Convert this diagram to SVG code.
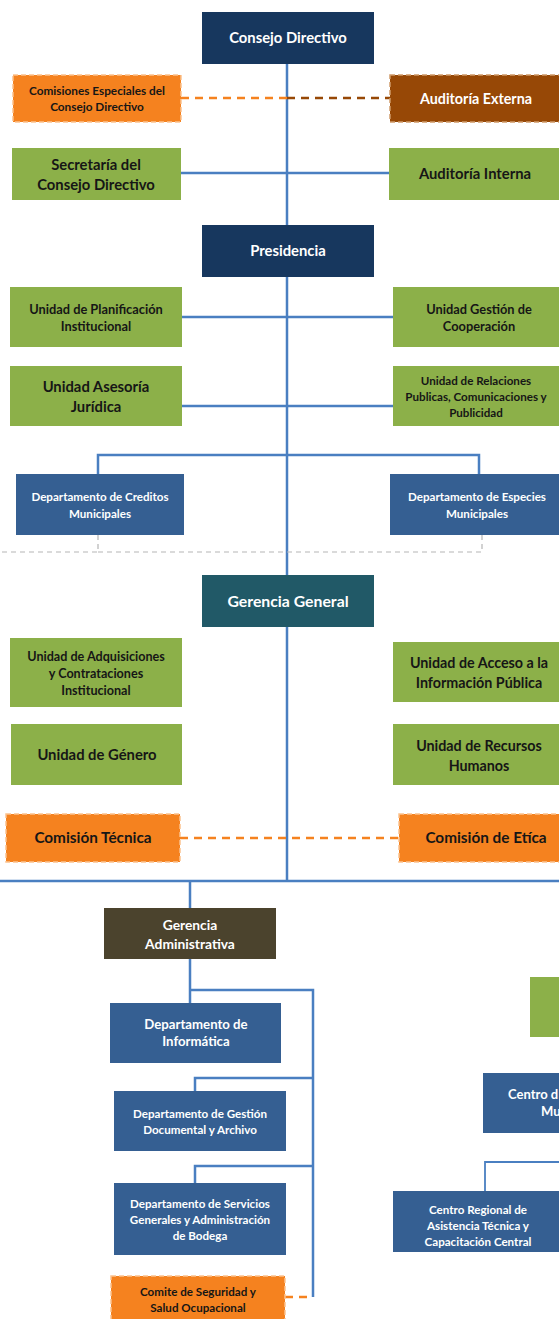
<svg xmlns="http://www.w3.org/2000/svg" width="559" height="1319" viewBox="0 0 559 1319">
<style>
text{font-family:Lato,"Liberation Sans",sans-serif;font-weight:bold;text-anchor:middle}
.w{fill:#ffffff}
.k{fill:#161616}
.navy{fill:#17375E}
.green{fill:#8CB049}
.blue{fill:#355F92}
.teal{fill:#215967}
.olive{fill:#4B432D}
.orange{fill:#F5821F;stroke:#FBC28E;stroke-width:1.5;stroke-dasharray:5 3}
.brown{fill:#974806;stroke:#CF9A6A;stroke-width:1.5;stroke-dasharray:5 3}
.ln{fill:none;stroke:#4A7FC1;stroke-width:2.5}
.dor{fill:none;stroke:#F5821F;stroke-width:2.5;stroke-dasharray:8 6}
.dbr{fill:none;stroke:#974806;stroke-width:2.5;stroke-dasharray:8 6}
.dgr{fill:none;stroke:#B5B5B5;stroke-width:1.2;stroke-dasharray:5 4}
</style>
<rect width="559" height="1319" fill="#ffffff"/>
<g id="connectors">
<path class="ln" d="M287 64V880M181 173H389M182 317H393M182 406H393M98 474V455H479V474"/>
<path class="ln" d="M0 881H559M190 881V908M190 959V1003M190 990H313V1297M195 1091V1078H313M195 1183V1166H313"/>
<path class="ln" d="M485 1191V1162H559" style="stroke-width:1.8"/>
<path class="dor" d="M181 98H287M180 838H399M285 1297H313"/>
<path class="dbr" d="M287 98H390"/>
<path class="dgr" d="M98 535V552H0M98 552H482V535"/>
</g>
<g id="consejo-directivo"><rect class="navy" x="202" y="12" width="172" height="52"/><text class="w" x="288" y="43" font-size="14.8">Consejo Directivo</text></g>
<g id="comisiones-especiales"><rect class="orange" x="13" y="75" width="168" height="47"/><text class="k" font-size="11.8"><tspan x="97" y="95">Comisiones Especiales del</tspan><tspan x="97" y="111">Consejo Directivo</tspan></text></g>
<g id="auditoria-externa"><rect class="brown" x="390" y="75" width="175" height="47"/><text class="w" x="476" y="104" font-size="14.3">Auditoría Externa</text></g>
<g id="secretaria"><rect class="green" x="12" y="148" width="169" height="52"/><text class="k" font-size="14.8"><tspan x="96" y="170">Secretaría del</tspan><tspan x="96" y="190">Consejo Directivo</tspan></text></g>
<g id="auditoria-interna"><rect class="green" x="389" y="148" width="175" height="52"/><text class="k" x="475" y="179" font-size="14.8">Auditoría Interna</text></g>
<g id="presidencia"><rect class="navy" x="202" y="225" width="172" height="52"/><text class="w" x="288" y="256" font-size="14.8">Presidencia</text></g>
<g id="planificacion"><rect class="green" x="10" y="287" width="172" height="60"/><text class="k" font-size="12.8"><tspan x="96" y="314">Unidad de Planificación</tspan><tspan x="96" y="331">Institucional</tspan></text></g>
<g id="cooperacion"><rect class="green" x="393" y="287" width="170" height="60"/><text class="k" font-size="12.8"><tspan x="479" y="314">Unidad Gestión de</tspan><tspan x="479" y="331">Cooperación</tspan></text></g>
<g id="asesoria-juridica"><rect class="green" x="10" y="366" width="172" height="60"/><text class="k" font-size="14.8"><tspan x="96" y="392">Unidad Asesoría</tspan><tspan x="96" y="412">Jurídica</tspan></text></g>
<g id="relaciones-publicas"><rect class="green" x="393" y="366" width="170" height="60"/><text class="k" font-size="11.6"><tspan x="476" y="385">Unidad de Relaciones</tspan><tspan x="476" y="401">Publicas, Comunicaciones y</tspan><tspan x="476" y="417">Publicidad</tspan></text></g>
<g id="creditos-municipales"><rect class="blue" x="16" y="474" width="168" height="61"/><text class="w" font-size="11.6"><tspan x="100" y="501">Departamento de Creditos</tspan><tspan x="100" y="518">Municipales</tspan></text></g>
<g id="especies-municipales"><rect class="blue" x="390" y="474" width="175" height="61"/><text class="w" font-size="11.6"><tspan x="477" y="501">Departamento de Especies</tspan><tspan x="477" y="518">Municipales</tspan></text></g>
<g id="gerencia-general"><rect class="teal" x="202" y="575" width="172" height="52"/><text class="w" x="288" y="607" font-size="15.8">Gerencia General</text></g>
<g id="adquisiciones"><rect class="green" x="10" y="638" width="172" height="69"/><text class="k" font-size="12.6"><tspan x="96" y="661">Unidad de Adquisiciones</tspan><tspan x="96" y="678">y Contrataciones</tspan><tspan x="96" y="695">Institucional</tspan></text></g>
<g id="acceso-informacion"><rect class="green" x="393" y="642" width="170" height="60"/><text class="k" font-size="14.3"><tspan x="479" y="668">Unidad de Acceso a la</tspan><tspan x="479" y="688">Información Pública</tspan></text></g>
<g id="genero"><rect class="green" x="11" y="724" width="171" height="61"/><text class="k" x="97" y="760" font-size="14.8">Unidad de Género</text></g>
<g id="recursos-humanos"><rect class="green" x="393" y="724" width="170" height="61"/><text class="k" font-size="14.3"><tspan x="479" y="751">Unidad de Recursos</tspan><tspan x="479" y="771">Humanos</tspan></text></g>
<g id="comision-tecnica"><rect class="orange" x="6" y="814" width="174" height="48"/><text class="k" x="93" y="843" font-size="15.3">Comisión Técnica</text></g>
<g id="comision-etica"><rect class="orange" x="399" y="814" width="166" height="48"/><text class="k" x="486" y="843" font-size="15.3">Comisión de Etíca</text></g>
<g id="gerencia-administrativa"><rect class="olive" x="104" y="908" width="172" height="51"/><text class="w" font-size="13.8"><tspan x="190" y="930">Gerencia</tspan><tspan x="190" y="949">Administrativa</tspan></text></g>
<g id="informatica"><rect class="blue" x="110" y="1003" width="171" height="60"/><text class="w" font-size="13.2"><tspan x="196" y="1029">Departamento de</tspan><tspan x="196" y="1046">Informática</tspan></text></g>
<g id="gestion-documental"><rect class="blue" x="114" y="1091" width="172" height="60"/><text class="w" font-size="11.6"><tspan x="200" y="1118">Departamento de Gestión</tspan><tspan x="200" y="1134">Documental y Archivo</tspan></text></g>
<g id="servicios-generales"><rect class="blue" x="114" y="1183" width="172" height="72"/><text class="w" font-size="11.6"><tspan x="200" y="1208">Departamento de Servicios</tspan><tspan x="200" y="1224">Generales y Administración</tspan><tspan x="200" y="1240">de Bodega</tspan></text></g>
<g id="comite-seguridad"><rect class="orange" x="111" y="1276" width="174" height="48"/><text class="k" font-size="11.6"><tspan x="198" y="1296">Comite de Seguridad y</tspan><tspan x="198" y="1312">Salud Ocupacional</tspan></text></g>
<g id="green-right"><rect class="green" x="530" y="977" width="35" height="60"/></g>
<g id="centro-d"><rect class="blue" x="483" y="1073" width="82" height="60"/><text class="w" font-size="13" style="text-anchor:start"><tspan x="508" y="1099">Centro d</tspan><tspan x="541" y="1116">Mu</tspan></text></g>
<g id="centro-regional"><rect class="blue" x="393" y="1191" width="172" height="61"/><text class="w" font-size="11.6"><tspan x="478" y="1214">Centro Regional de</tspan><tspan x="478" y="1230">Asistencia Técnica y</tspan><tspan x="478" y="1246">Capacitación Central</tspan></text></g>
</svg>
